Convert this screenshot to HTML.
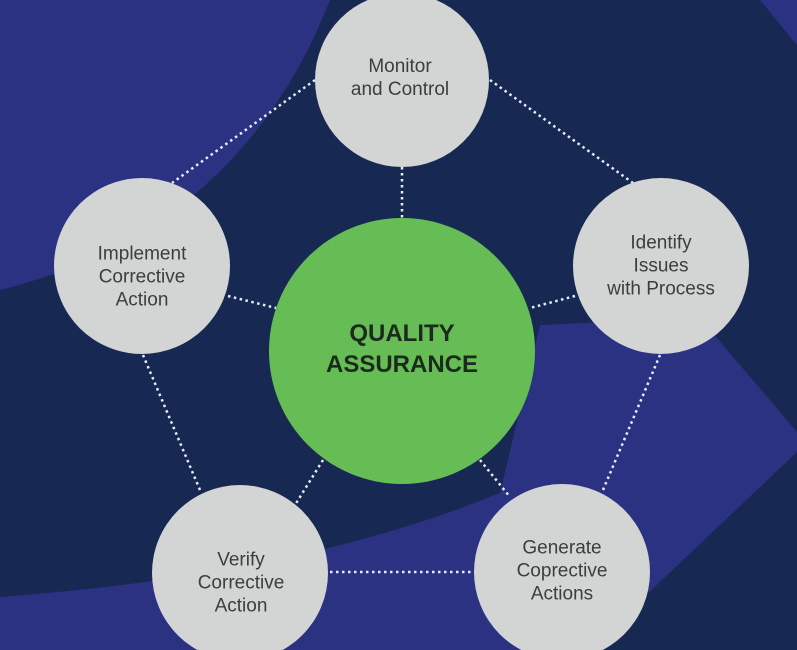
<!DOCTYPE html>
<html><head><style>
html,body{margin:0;padding:0}
body{width:797px;height:650px;overflow:hidden;background:#172853;position:relative;font-family:"Liberation Sans",sans-serif}
svg{position:absolute;left:0;top:0}
.t{position:absolute;text-align:center;color:#3b3d3f;font-size:19px;line-height:23px;transform:translate(-50%,-50%);white-space:nowrap}
.c{position:absolute;text-align:center;color:#1b2a1c;font-size:24px;line-height:31px;font-weight:bold;transform:translate(-50%,-50%);white-space:nowrap}
</style></head><body>
<svg width="797" height="650" viewBox="0 0 797 650">
<path d="M0,0 L330,0 Q240,230 0,290 Z" fill="#2b3282"/>
<path d="M760,0 L797,0 L797,45 Z" fill="#2b3282"/>
<path d="M0,597 Q300,575 500,493 L540,325 L700,318 L797,432 L797,452 L588,650 L0,650 Z" fill="#2b3282"/>
<g stroke="#e8ecf5" stroke-width="2.5" stroke-dasharray="2.5 3.5" fill="none">
<line x1="490" y1="80" x2="633" y2="183"/>
<line x1="315" y1="80" x2="172" y2="183"/>
<line x1="402" y1="167" x2="402" y2="218"/>
<line x1="228" y1="296" x2="276" y2="308"/>
<line x1="575" y1="296" x2="530" y2="308"/>
<line x1="143" y1="355" x2="200" y2="490"/>
<line x1="660" y1="355" x2="603" y2="490"/>
<line x1="323" y1="460" x2="295" y2="505"/>
<line x1="480" y1="460" x2="510" y2="497"/>
<line x1="330" y1="572" x2="475" y2="572"/>
</g>
<g fill="#d3d5d5">
<circle cx="402" cy="80" r="87"/>
<circle cx="142" cy="266" r="88"/>
<circle cx="661" cy="266" r="88"/>
<circle cx="240" cy="573" r="88"/>
<circle cx="562" cy="572" r="88"/>
</g>
<circle cx="402" cy="351" r="133" fill="#67bd55"/>
</svg>
<div class="t" style="left:400px;top:78px">Monitor<br>and Control</div>
<div class="t" style="left:142px;top:277px">Implement<br>Corrective<br>Action</div>
<div class="t" style="left:661px;top:266px">Identify<br>Issues<br>with Process</div>
<div class="t" style="left:241px;top:583px">Verify<br>Corrective<br>Action</div>
<div class="t" style="left:562px;top:571px">Generate<br>Coprective<br>Actions</div>
<div class="c" style="left:402px;top:349px">QUALITY<br>ASSURANCE</div>
</body></html>
